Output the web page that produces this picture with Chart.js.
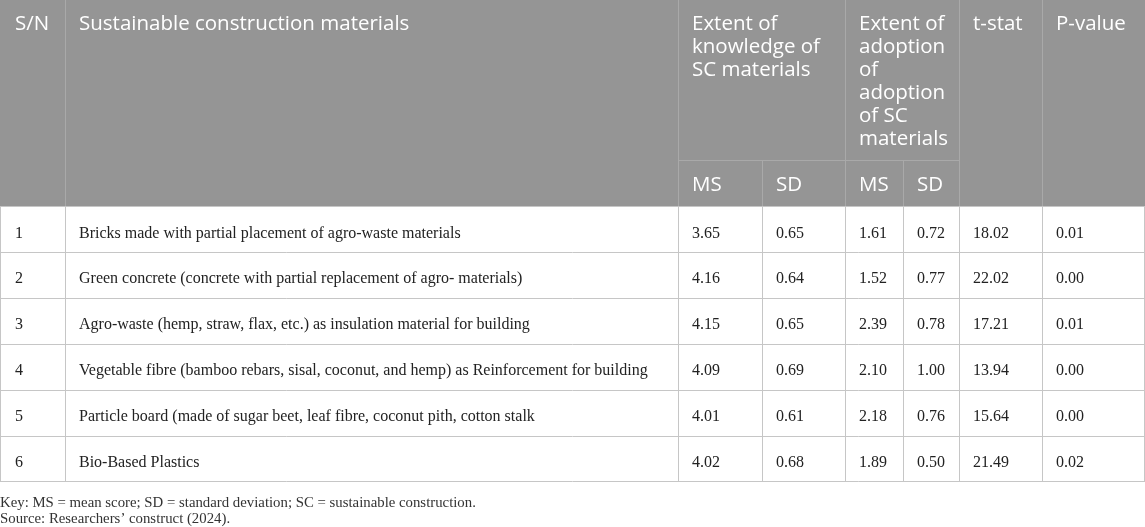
<!DOCTYPE html>
<html>
<head>
<meta charset="utf-8">
<script src="https://cdn.jsdelivr.net/npm/chart.js@4/dist/chart.umd.min.js"></script>
<style>
html,body{margin:0;padding:0;background:#fff;}
#wrap{width:1145px;height:527px;position:relative;}
</style>
</head>
<body>
<div id="wrap"><canvas id="c"></canvas></div>
<script>
// ---- data ----
const sn = ['1','2','3','4','5','6'];
const materials = [
  'Bricks made with partial placement of agro-waste materials',
  'Green concrete (concrete with partial replacement of agro- materials)',
  'Agro-waste (hemp, straw, flax, etc.) as insulation material for building',
  'Vegetable fibre (bamboo rebars, sisal, coconut, and hemp) as Reinforcement for building',
  'Particle board (made of sugar beet, leaf fibre, coconut pith, cotton stalk',
  'Bio-Based Plastics'
];
const knowMS = [3.65, 4.16, 4.15, 4.09, 4.01, 4.02];
const knowSD = [0.65, 0.64, 0.65, 0.69, 0.61, 0.68];
const adoptMS = [1.61, 1.52, 2.39, 2.10, 2.18, 1.89];
const adoptSD = [0.72, 0.77, 0.78, 1.00, 0.76, 0.50];
const tStat = [18.02, 22.02, 17.21, 13.94, 15.64, 21.49];
const pValue = [0.01, 0.00, 0.01, 0.00, 0.00, 0.02];
const headSN = 'S/N';
const headMaterial = 'Sustainable construction materials';
const headKnow = ['Extent of', 'knowledge of', 'SC materials'];
const headAdopt = ['Extent of', 'adoption', 'of', 'adoption', 'of SC', 'materials'];
const headT = 't-stat';
const headP = 'P-value';
const subHeads = ['MS', 'SD', 'MS', 'SD'];
const footnotes = [
  'Key: MS = mean score; SD = standard deviation; SC = sustainable construction.',
  'Source: Researchers\u2019 construct (2024).'
];

// ---- layout (column edges / row edges in scale units) ----
const colEdges = [0, 65, 678, 762, 845, 903, 959, 1042, 1145];
const headerBottom = 206.5, subHeaderTop = 160.5, rowH = 45.9;

const tablePlugin = {
  id: 'tablePlugin',
  afterDraw(chart) {
    const ctx = chart.ctx, xs = chart.scales.x, ys = chart.scales.y;
    const X = v => xs.getPixelForValue(v), Y = v => ys.getPixelForValue(v);
    const n = sn.length;
    const rowTop = i => headerBottom + i * rowH;
    const tableBottom = rowTop(n);
    ctx.save();
    // header background
    ctx.fillStyle = '#959595';
    ctx.fillRect(X(0), Y(0), X(1145) - X(0), Y(headerBottom) - Y(0));
    ctx.lineWidth = 1;
    const vline = (x, y0, y1, col) => { ctx.strokeStyle = col; ctx.beginPath(); ctx.moveTo(Math.round(X(x)) + 0.5, Y(y0)); ctx.lineTo(Math.round(X(x)) + 0.5, Y(y1)); ctx.stroke(); };
    const hline = (y, x0, x1, col) => { ctx.strokeStyle = col; ctx.beginPath(); ctx.moveTo(X(x0), Math.round(Y(y)) + 0.5); ctx.lineTo(X(x1), Math.round(Y(y)) + 0.5); ctx.stroke(); };
    const headCol = '#a9a9a9';
    [colEdges[1], colEdges[2], colEdges[4], colEdges[6], colEdges[7]].forEach(x => vline(x, 0, headerBottom, headCol));
    [colEdges[3], colEdges[5]].forEach(x => vline(x, subHeaderTop, headerBottom, headCol));
    hline(subHeaderTop - 0.5, colEdges[2], colEdges[6], headCol);
    // body lines
    const bodyCol = '#c6c6c6';
    for (let i = 0; i <= n; i++) hline(rowTop(i) - 0.5, 0, 1145, bodyCol);
    [0, ...colEdges.slice(1, 8)].forEach(x => vline(x, headerBottom, tableBottom, bodyCol));
    vline(1144, headerBottom, tableBottom, bodyCol);

    // header text
    ctx.fillStyle = '#ffffff';
    ctx.font = '20.5px "Open Sans", sans-serif';
    ctx.textBaseline = 'alphabetic';
    ctx.textAlign = 'left';
    const pad = 14, lh = 23, base0 = 30;
    ctx.fillText(headSN, X(colEdges[0] + 15), Y(base0));
    ctx.fillText(headMaterial, X(colEdges[1] + pad), Y(base0));
    headKnow.forEach((t, i) => ctx.fillText(t, X(colEdges[2] + pad), Y(base0 + i * lh)));
    headAdopt.forEach((t, i) => ctx.fillText(t, X(colEdges[4] + pad), Y(base0 + i * lh)));
    ctx.fillText(headT, X(colEdges[6] + pad), Y(base0));
    ctx.fillText(headP, X(colEdges[7] + pad), Y(base0));
    subHeads.forEach((t, i) => ctx.fillText(t, X(colEdges[2 + i] + pad), Y(191)));

    // body text
    ctx.fillStyle = '#222222';
    ctx.font = '16px "Liberation Serif", serif';
    const cols = [sn, materials, knowMS, knowSD, adoptMS, adoptSD, tStat, pValue];
    for (let i = 0; i < n; i++) {
      const by = rowTop(i) + 31;
      cols.forEach((arr, c) => {
        const v = arr[i];
        const s = typeof v === 'number' ? v.toFixed(2) : v;
        ctx.fillText(s, X(colEdges[c] + (c === 0 ? 15 : pad)), Y(by));
      });
    }
    // footnotes
    ctx.fillStyle = '#333333';
    ctx.font = '14.8px "Liberation Serif", serif';
    ctx.fillText(footnotes[0], X(0), Y(507));
    ctx.fillText(footnotes[1], X(0), Y(523));
    ctx.restore();
  }
};

new Chart(document.getElementById('c'), {
  type: 'scatter',
  data: { datasets: [{ data: [] }] },
  options: {
    responsive: true,
    maintainAspectRatio: false,
    animation: false,
    layout: { padding: 0 },
    plugins: { legend: { display: false }, tooltip: { enabled: false } },
    scales: {
      x: { type: 'linear', min: 0, max: 1145, display: false },
      y: { type: 'linear', min: 0, max: 527, reverse: true, display: false }
    }
  },
  plugins: [tablePlugin]
});
</script>
</body>
</html>
